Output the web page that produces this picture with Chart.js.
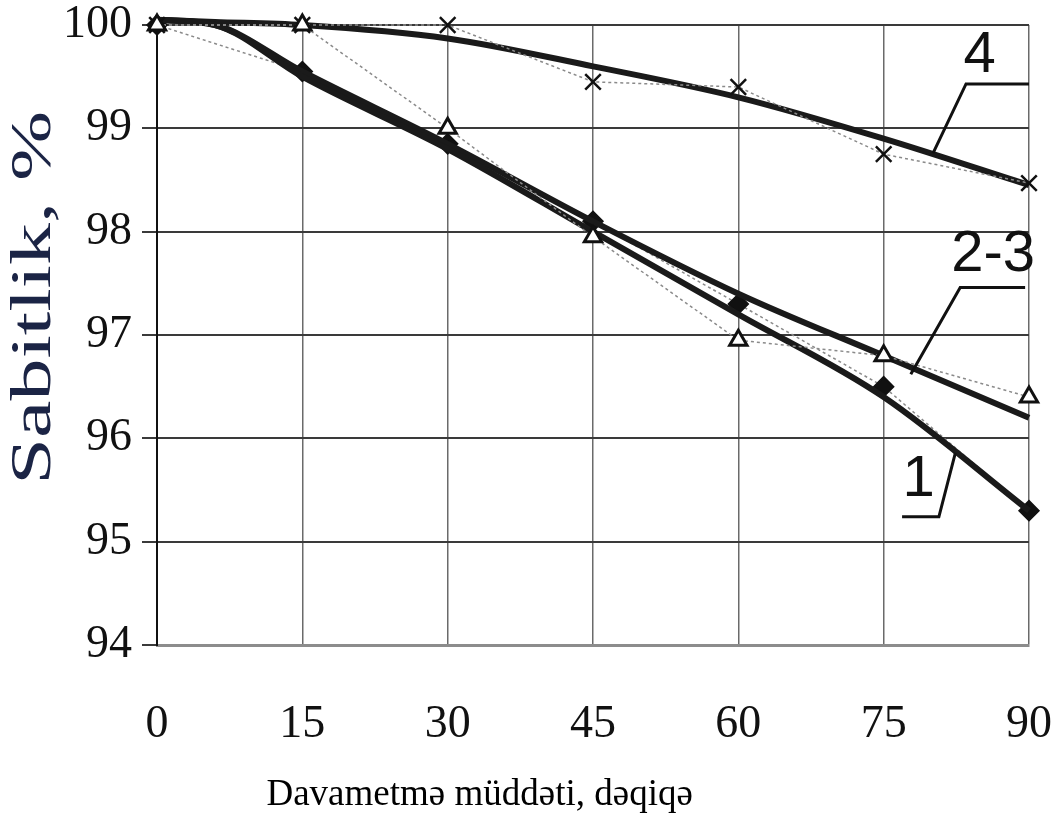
<!DOCTYPE html>
<html>
<head>
<meta charset="utf-8">
<script src="https://cdn.jsdelivr.net/npm/chart.js@4.4.1/dist/chart.umd.min.js"></script>
<style>
  html, body { margin: 0; padding: 0; background: #fff; }
</style>
</head>
<body>
<canvas id="grafik" width="1059" height="829"></canvas>
<script>
// Davametmə müddəti (dəqiqə)
const muddet = [0, 15, 30, 45, 60, 75, 90];

// Ölçülmüş nöqtələr
const numune1 = [100, 99.55, 98.85, 98.1, 97.3, 96.5, 95.3];   // 1 - romb
const numune23 = [100, 100, 99, 97.95, 96.95, 96.8, 96.4];      // 2-3 - üçbucaq
const numune4 = [100, 100, 100, 99.45, 99.4, 98.75, 98.47];     // 4 - çarpaz

// Hamarlanmış əyrilər (qalın xətt)
const eyriMuddet = [0, 6, 15, 30, 45, 60, 75, 90];
const eyri1 = [100.05, 100.0, 99.5, 98.8, 98.0, 97.2, 96.4, 95.3];
const eyri23 = [100.05, 100.0, 99.55, 98.85, 98.1, 97.4, 96.8, 96.2];
const eyri4 = [100.05, 100.03, 100, 99.87, 99.6, 99.3, 98.9, 98.45];

const yTicks = [94, 95, 96, 97, 98, 99, 100];
const xBasliq = "Davametmə müddəti, dəqiqə";
const yBasliq = "Sabitlik, %";

// Əyri nömrələri və göstərici xətləri (qrafikin vahidlərində)
const etiketler = [
  { metn: "4", x: 84.9, y: 99.7, xett: [[80.1, 98.76], [83.5, 99.43], [90, 99.43]] },
  { metn: "2-3", x: 86.3, y: 97.77, xett: [[77.8, 96.62], [82.9, 97.46], [89.6, 97.46]] },
  { metn: "1", x: 78.6, y: 95.6, xett: [[82.4, 95.86], [80.7, 95.24], [76.9, 95.24]] }
];

const noqteler = (xs, arr) => xs.map((m, i) => ({ x: m, y: arr[i] }));

// Oxların başlıqları və əyri nömrələri
const yaziPlugin = {
  id: "yazilar",
  afterDatasetsDraw(chart) {
    const ctx = chart.ctx;
    const xs = chart.scales.x, ys = chart.scales.y;
    ctx.save();
    ctx.strokeStyle = "#111";
    ctx.fillStyle = "#111";
    ctx.lineWidth = 3;
    etiketler.forEach(e => {
      ctx.beginPath();
      e.xett.forEach((p, i) => {
        const px = xs.getPixelForValue(p[0]), py = ys.getPixelForValue(p[1]);
        if (i === 0) ctx.moveTo(px, py); else ctx.lineTo(px, py);
      });
      ctx.stroke();
      ctx.font = "58px 'Liberation Sans Narrow', 'Liberation Sans', sans-serif";
      ctx.textAlign = "center";
      ctx.textBaseline = "middle";
      ctx.fillText(e.metn, xs.getPixelForValue(e.x), ys.getPixelForValue(e.y));
    });
    ctx.restore();
  },
  afterDraw(chart) {
    const ctx = chart.ctx;
    const a = chart.chartArea;
    ctx.save();
    // x oxunun başlığı
    ctx.fillStyle = "#000";
    ctx.font = "37px 'Liberation Serif', serif";
    ctx.textAlign = "center";
    ctx.textBaseline = "middle";
    ctx.fillText(xBasliq, a.left + 0.37 * (a.right - a.left), 795);
    // y oxunun başlığı
    ctx.translate(35, a.top + 0.44 * (a.bottom - a.top));
    ctx.rotate(-Math.PI / 2);
    ctx.scale(1.45, 1);
    ctx.fillStyle = "#1b2445";
    ctx.font = "58px 'Liberation Serif', serif";
    ctx.fillText(yBasliq, 0, 0);
    ctx.restore();
  }
};

const nazikXett = {
  borderColor: "#8a8a8a",
  borderWidth: 1.5,
  borderDash: [3, 3],
  pointBorderColor: "#111",
  clip: false,
  order: 0
};
const qalinXett = {
  borderColor: "#1a1a1a",
  borderWidth: 6,
  pointRadius: 0,
  cubicInterpolationMode: "monotone",
  clip: false,
  order: 1
};

new Chart(document.getElementById("grafik").getContext("2d"), {
  type: "line",
  data: {
    datasets: [
      Object.assign({ label: "1", data: noqteler(muddet, numune1), pointStyle: "rectRot",
        pointRadius: 10, pointBackgroundColor: "#111" }, nazikXett, { order: 2 }),
      Object.assign({ label: "2-3", data: noqteler(muddet, numune23), pointStyle: "triangle",
        pointRadius: 10, pointBorderWidth: 3, pointBackgroundColor: "#fff" }, nazikXett),
      Object.assign({ label: "4", data: noqteler(muddet, numune4), pointStyle: "crossRot",
        pointRadius: 11, pointBorderWidth: 2.5 }, nazikXett),
      Object.assign({ label: "1 əyri", data: noqteler(eyriMuddet, eyri1) }, qalinXett),
      Object.assign({ label: "2-3 əyri", data: noqteler(eyriMuddet, eyri23) }, qalinXett),
      Object.assign({ label: "4 əyri", data: noqteler(eyriMuddet, eyri4) }, qalinXett)
    ]
  },
  options: {
    responsive: false,
    animation: false,
    layout: { padding: { top: 25, right: 30, left: 0, bottom: 0 } },
    plugins: {
      legend: { display: false },
      tooltip: { enabled: false }
    },
    scales: {
      x: {
        type: "linear",
        min: 0,
        max: 90,
        afterFit: (s) => { s.height = 184; s.paddingLeft = 0; s.paddingRight = 0; },
        afterBuildTicks: (s) => { s.ticks = muddet.map(v => ({ value: v })); },
        grid: { color: "#6a6a6a", lineWidth: 1.5, drawTicks: false },
        border: { color: "#8c8c8c", width: 3 },
        ticks: {
          padding: 52,
          color: "#111",
          font: { family: "'Liberation Serif', serif", size: 46 }
        }
      },
      y: {
        min: 94,
        max: 100,
        afterFit: (s) => { s.width = 157; s.paddingTop = 0; s.paddingBottom = 0; },
        afterBuildTicks: (s) => { s.ticks = yTicks.map(v => ({ value: v })); },
        grid: { color: "#3a3a3a", lineWidth: 2, tickLength: 15 },
        border: { color: "#111", width: 2 },
        ticks: {
          padding: 10,
          color: "#111",
          font: { family: "'Liberation Serif', serif", size: 46 }
        }
      }
    }
  },
  plugins: [yaziPlugin]
});
</script>
</body>
</html>
